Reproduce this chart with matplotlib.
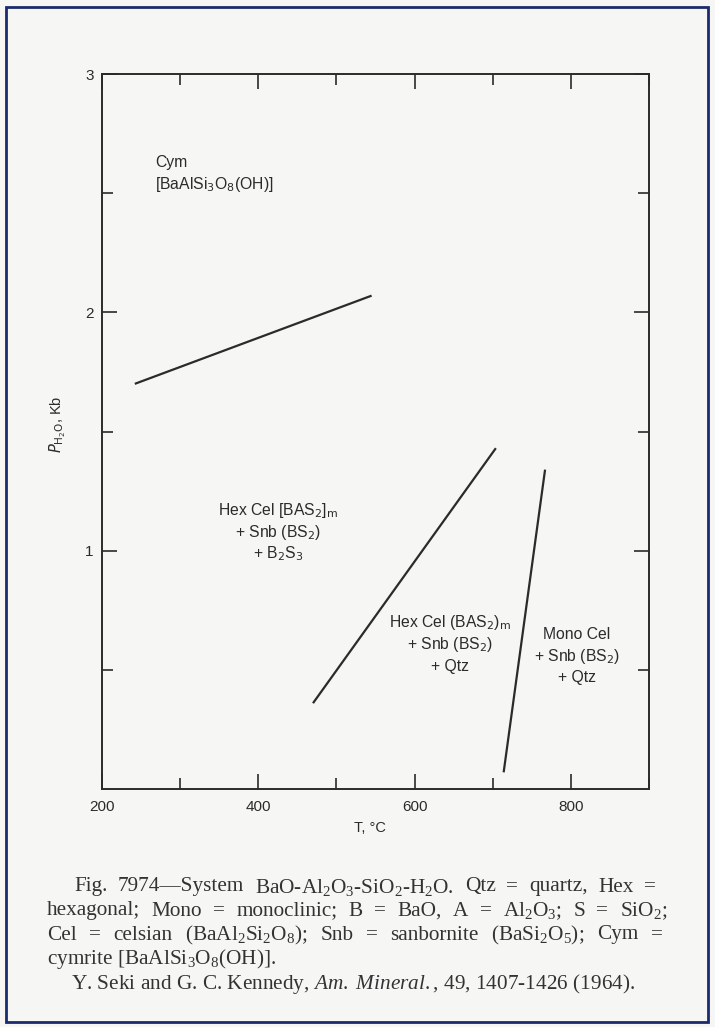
import matplotlib
matplotlib.use("Agg")
import matplotlib.pyplot as plt
from matplotlib.ticker import FixedLocator
from matplotlib.patches import Rectangle

# ---------------- data ----------------
# phase boundary lines (T in degC, P_H2O in kb)
cym_boundary_T = [242, 545]
cym_boundary_P = [1.70, 2.07]
hex_qtz_boundary_T = [470, 704]
hex_qtz_boundary_P = [0.36, 1.43]
hex_mono_boundary_T = [714, 767]
hex_mono_boundary_P = [0.07, 1.34]

x_major = [200, 400, 600, 800]
x_minor = [300, 500, 700, 900]
x_labels = ["200", "400", "600", "800"]
y_major = [1, 2, 3]
y_minor = [0.5, 1.5, 2.5]
y_labels = ["1", "2", "3"]

# field labels: (T, P, text lines)
field_cym_T, field_cym_P = 268, 2.63
field_cym_lines = ["Cym", r"[BaAlSi$_3$O$_8$(OH)]"]
field_hex1_T, field_hex1_P = 425, 1.17
field_hex1_lines = [r"Hex Cel [BAS$_2$]$_{\rm m}$", r"+ Snb (BS$_2$)", r"+ B$_2$S$_3$"]
field_hex2_T, field_hex2_P = 645, 0.70
field_hex2_lines = [r"Hex Cel (BAS$_2$)$_{\rm m}$", r"+ Snb (BS$_2$)", r"+ Qtz"]
field_mono_T, field_mono_P = 808, 0.65
field_mono_lines = ["Mono Cel", r"+ Snb (BS$_2$)", r"+ Qtz"]

caption_lines = [
    r"Fig. 7974—System BaO-Al$_2$O$_3$-SiO$_2$-H$_2$O. Qtz = quartz, Hex =",
    r"hexagonal; Mono = monoclinic; B = BaO, A = Al$_2$O$_3$; S = SiO$_2$;",
    r"Cel = celsian (BaAl$_2$Si$_2$O$_8$); Snb = sanbornite (BaSi$_2$O$_5$); Cym =",
    r"cymrite [BaAlSi$_3$O$_8$(OH)].",
]
reference_line = r"Y. Seki and G. C. Kennedy, $\it{Am.\ Mineral.}$, 49, 1407-1426 (1964)."

# ---------------- style ----------------
W, H = 715, 1027
bg = "#f6f6f4"
ink = "#2b2b2b"
plt.rcParams["mathtext.fontset"] = "custom"
plt.rcParams["mathtext.rm"] = "Liberation Serif"
plt.rcParams["mathtext.it"] = "Liberation Serif:italic"
plt.rcParams["mathtext.bf"] = "Liberation Serif:bold"

fig = plt.figure(figsize=(W / 100, H / 100), dpi=100, facecolor=bg)

# border frame
fig.patches.append(Rectangle((6 / W, 5 / H), (W - 13) / W, (H - 12) / H,
                             transform=fig.transFigure, fill=False,
                             edgecolor="#1d2a6b", linewidth=2.0))

left, right, top, bottom = 102, 649, 74, 789
ax = fig.add_axes([left / W, 1 - bottom / H, (right - left) / W, (bottom - top) / H])
ax.set_facecolor(bg)
ax.set_xlim(200, 900)
ax.set_ylim(0, 3)

for s in ax.spines.values():
    s.set_color(ink)
    s.set_linewidth(1.4)

ax.xaxis.set_major_locator(FixedLocator(x_major))
ax.xaxis.set_minor_locator(FixedLocator(x_minor))
ax.set_xticklabels(x_labels)
ax.yaxis.set_major_locator(FixedLocator(y_major))
ax.yaxis.set_minor_locator(FixedLocator(y_minor))
ax.set_yticklabels(y_labels)
ax.tick_params(which="both", direction="in", top=True, right=True, color=ink, width=1.2)
ax.tick_params(which="major", length=11, labelsize=11, labelcolor=ink)
ax.tick_params(axis="x", which="major", pad=8)
ax.tick_params(axis="y", which="major", pad=6)
ax.tick_params(which="minor", length=8)
for lab in ax.get_xticklabels() + ax.get_yticklabels():
    lab.set_family("Liberation Sans")

lkw = dict(color=ink, linewidth=1.6, solid_capstyle="butt")
ax.plot(cym_boundary_T, cym_boundary_P, **lkw)
ax.plot(hex_qtz_boundary_T, hex_qtz_boundary_P, **lkw)
ax.plot(hex_mono_boundary_T, hex_mono_boundary_P, **lkw)

ax.set_xlabel("T, °C", fontsize=10.5, color=ink, family="Liberation Sans")
ax.xaxis.set_label_coords(0.49, -0.045)
ax.set_ylabel(r"$P_{\rm H_2O}$, Kb", fontsize=10.5, color=ink, family="Liberation Sans")
ax.yaxis.set_label_coords(-0.062, 0.51)
ax.yaxis.label.set_math_fontfamily("dejavusans")


def block(T, P, lines, ha="center", dy=0.092):
    for i, t in enumerate(lines):
        ax.text(T, P - i * dy, t, ha=ha, va="center", fontsize=11.3, color=ink,
                family="Liberation Sans", math_fontfamily="dejavusans")


block(field_cym_T, field_cym_P, field_cym_lines, ha="left")
block(field_hex1_T, field_hex1_P, field_hex1_lines)
block(field_hex2_T, field_hex2_P, field_hex2_lines)
block(field_mono_T, field_mono_P, field_mono_lines)

# ---------------- caption (justified) ----------------
renderer = fig.canvas.get_renderer()
cap_kw = dict(color="#333333", family="Liberation Serif", va="center",
              math_fontfamily="custom")
# fit font size so line 2 (natural spacing) nearly fills its width
probe = fig.text(0, 0, caption_lines[1], fontsize=12, **cap_kw)
pw = probe.get_window_extent(renderer).width
probe.remove()
fs = 12 * (667 - 49) * 0.89 / pw
cap_kw["fontsize"] = fs

cap_y = [887, 911, 935, 959]
cap_x0 = [74, 47, 47, 47]
cap_x1 = [656, 667, 663, None]
for line, y, x0, x1 in zip(caption_lines, cap_y, cap_x0, cap_x1):
    if x1 is None:
        fig.text(x0 / W, 1 - y / H, line, **cap_kw)
        continue
    words = line.split(" ")
    texts = [fig.text(0, 1 - y / H, w, **cap_kw) for w in words]
    widths = [t.get_window_extent(renderer).width for t in texts]
    gap = ((x1 - x0) - sum(widths)) / (len(words) - 1)
    x = x0
    for t, w in zip(texts, widths):
        t.set_x(x / W)
        x += w + gap

fig.text(71 / W, 1 - 984 / H, reference_line, **cap_kw)

fig.savefig("out.png", dpi=100, facecolor=bg)
